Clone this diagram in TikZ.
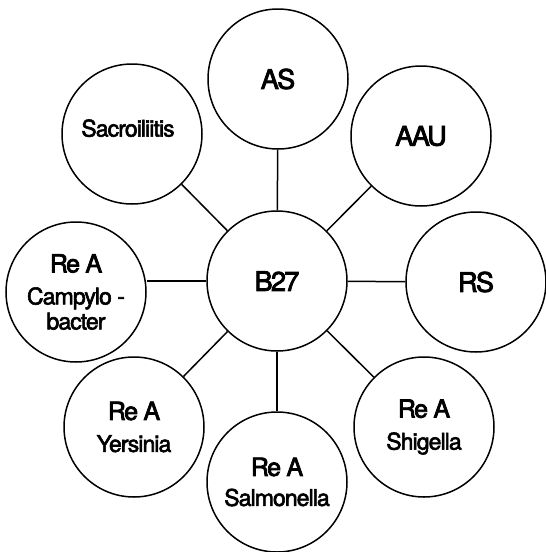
\documentclass[tikz,border=0pt]{standalone}
\usepackage{fontspec}
\newfontfamily\heros[FakeBold=2.5,LetterSpace=-4]{TeX Gyre Heros}
\newfontfamily\herost[FakeBold=3,LetterSpace=-6]{TeX Gyre Heros}
\newcommand{\biglab}[1]{{\herost\fontsize{27}{30}\selectfont #1}}
\newcommand{\reA}{{\herost\fontsize{25}{30}\selectfont Re A}}
\tikzset{
  disc/.style={circle, draw, line width=1.5pt, minimum size=140pt, inner sep=0pt,
    fill=white, align=center, font=\heros\fontsize{23}{30}\selectfont},
  link/.style={line width=1.5pt},
}
\begin{document}
\begin{tikzpicture}[x=1pt,y=-1pt]
\useasboundingbox (0,0) rectangle (546,552);
\node[disc] (B27) at (277,281) {\biglab{B27}};
\node[disc] (AS)  at (278,79)  {\biglab{AS}};
\node[disc] (SI)  at (132,134) {\raisebox{12pt}{Sacroiliitis}\kern8pt};
\node[disc] (AAU) at (421,136) {\biglab{AAU}};
\node[disc] (RS)  at (476,282) {\biglab{RS}};
\node[disc] (CB)  at (76,292)  {\reA\\[2pt] Campylo -\\[-5pt] bacter};
\node[disc] (YE)  at (134,427) {\reA\\[2pt] Yersinia};
\node[disc] (SA)  at (277,482) {\reA\\ Salmonella};
\node[disc] (SH)  at (424,427) {\reA\\[2pt] Shigella};
\draw[link] (B27) -- (AS);
\draw[link] (B27) -- (SI);
\draw[link] (B27) -- (AAU);
\draw[link] (B27) -- (RS);
\draw[link] (B27.west) -- (B27.west -| CB.east);
\draw[link] (B27) -- (YE);
\draw[link] (B27) -- (SA);
\draw[link] (B27) -- (SH);
\end{tikzpicture}
\end{document}
